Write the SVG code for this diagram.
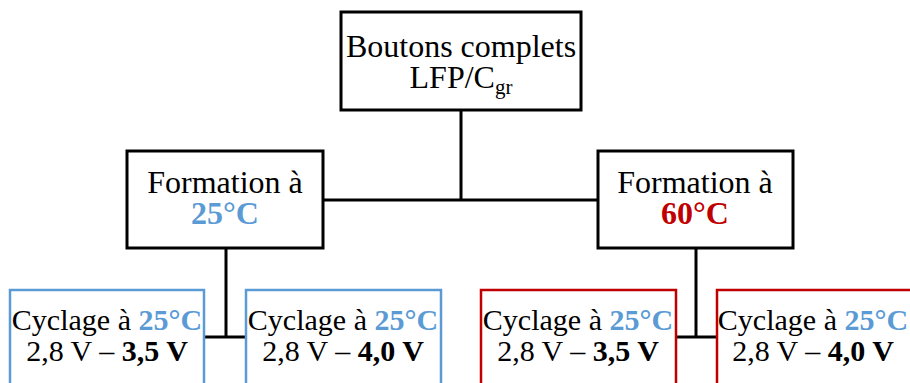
<svg xmlns="http://www.w3.org/2000/svg" width="910" height="383" viewBox="0 0 910 383">
<style>
text{font-family:"Liberation Serif","Times New Roman",serif;text-anchor:middle;fill:#000}
.big{font-size:32px}
.sm{font-size:30px}
.b{font-weight:bold}
.blue{fill:#5B9BD5}
.red{fill:#C00000}
.nb{fill:#fff;stroke:#000;stroke-width:3}
.bb{fill:#fff;stroke:#5B9BD5;stroke-width:2.5}
.rb{fill:#fff;stroke:#C00000;stroke-width:2.5}
.c{stroke:#000;stroke-width:3;fill:none}
</style>
<rect width="910" height="383" fill="#fff"/>
<g id="connectors">
<path class="c" d="M461,110 V200 M323,200 H598"/>
<path class="c" d="M226,248 V337 M204,337 H246"/>
<path class="c" d="M696,248 V337 M676,337 H717"/>
</g>
<g id="root">
<rect class="nb" x="341" y="12" width="240" height="98"/>
<text class="big" x="461" y="57">Boutons complets</text>
<text class="big" x="461" y="88">LFP/C<tspan font-size="21" dy="6">gr</tspan></text>
</g>
<g id="form25">
<rect class="nb" x="127" y="151" width="196" height="97"/>
<text class="big" x="225" y="193">Formation à</text>
<text class="big b blue" x="225" y="224">25°C</text>
</g>
<g id="form60">
<rect class="nb" x="598" y="151" width="195" height="97"/>
<text class="big" x="695" y="193">Formation à</text>
<text class="big b red" x="695" y="224">60°C</text>
</g>
<g id="cyc1">
<rect class="bb" x="10" y="290" width="194" height="110"/>
<text class="sm" x="107" y="330">Cyclage à <tspan class="b blue">25°C</tspan></text>
<text class="sm" x="107" y="361">2,8 V – <tspan class="b">3,5 V</tspan></text>
</g>
<g id="cyc2">
<rect class="bb" x="246" y="290" width="195" height="110"/>
<text class="sm" x="343" y="330">Cyclage à <tspan class="b blue">25°C</tspan></text>
<text class="sm" x="343" y="361">2,8 V – <tspan class="b">4,0 V</tspan></text>
</g>
<g id="cyc3">
<rect class="rb" x="481" y="290" width="195" height="110"/>
<text class="sm" x="578" y="330">Cyclage à <tspan class="b blue">25°C</tspan></text>
<text class="sm" x="578" y="361">2,8 V – <tspan class="b">3,5 V</tspan></text>
</g>
<g id="cyc4">
<rect class="rb" x="717" y="290" width="196" height="110"/>
<text class="sm" x="813" y="330">Cyclage à <tspan class="b blue">25°C</tspan></text>
<text class="sm" x="813" y="361">2,8 V – <tspan class="b">4,0 V</tspan></text>
</g>
</svg>
